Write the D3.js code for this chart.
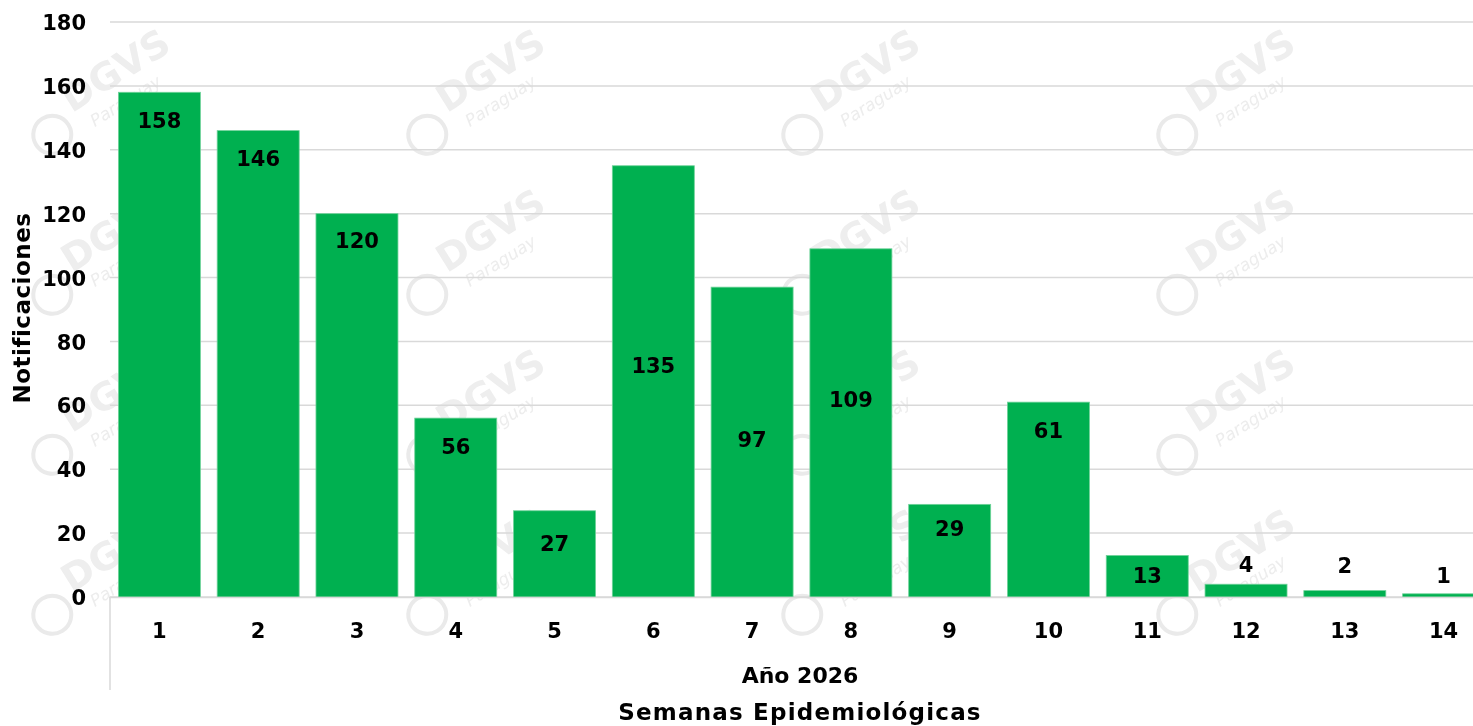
<!DOCTYPE html>
<html><head><meta charset="utf-8">
<script src="https://cdn.jsdelivr.net/npm/d3@7"></script>
<style>
html,body{margin:0;padding:0;background:#fff;}
svg text{font-family:"DejaVu Sans",sans-serif;font-weight:700;fill:#000;}
</style></head>
<body><svg id="c" width="1473" height="726"></svg>
<script>
const weeks = ["1","2","3","4","5","6","7","8","9","10","11","12","13","14"];
const notifications = [158,146,120,56,27,135,97,109,29,61,13,4,2,1];
// vertical position of each value label, in data units
const labelAnchors = [149.3,137.4,111.5,47,16.9,72.6,49.2,61.7,21.6,52,6.9,10.3,10,6.9];
const yTicks = [0,20,40,60,80,100,120,140,160,180];
const yTitle = "Notificaciones";
const xTitle1 = "Año 2026";
const xTitle2 = "Semanas Epidemiológicas";

const svg = d3.select("#c");
const W = 1473, H = 726;
const left = 110, y0 = 597, yTop = 22;

// watermark
const wm = svg.append("g").attr("opacity", 0.5);
const wmX = [40, 415, 790, 1165], wmY = [100, 260, 420, 580];
wmY.forEach(yy => wmX.forEach(xx => {
  const g = wm.append("g").attr("transform", `translate(${xx},${yy}) rotate(-32)`);
  g.append("circle").attr("cx", -8).attr("cy", 36).attr("r", 19).attr("fill", "none").attr("stroke", "#d4d4d4").attr("stroke-width", 4);
  g.append("text").attr("x", 20).attr("y", 28).style("font-size", "38px").style("fill", "#dcdcdc").text("DGVS");
  g.append("text").attr("x", 32).attr("y", 52).style("font-size", "17px").style("font-weight", 400).style("font-style", "italic").style("fill", "#dadada").text("Paraguay");
}));

const x = d3.scaleBand().domain(weeks).range([left, 1493]).paddingInner(0.17).paddingOuter(0.085);
const y = d3.scaleLinear().domain([0, 180]).range([y0, yTop]);

// gridlines
svg.append("g").selectAll("line").data(yTicks).join("line")
  .attr("x1", left).attr("x2", W).attr("y1", d => y(d)).attr("y2", d => y(d))
  .attr("stroke", "#d9d9d9").attr("stroke-width", 1.5);
// category axis left edge
svg.append("line").attr("x1", left).attr("x2", left).attr("y1", y0).attr("y2", 690)
  .attr("stroke", "#d9d9d9").attr("stroke-width", 1.5);

// y axis labels
const yAxis = d3.axisLeft(y).tickValues(yTicks).tickSize(0).tickPadding(0);
const gy = svg.append("g").attr("transform", "translate(86,0)").call(yAxis);
gy.select(".domain").remove();
gy.selectAll("text").style("font-size", "21px").attr("dy", "0.36em");

// bars
svg.append("g").selectAll("rect").data(notifications).join("rect")
  .attr("x", (d, i) => x(weeks[i])).attr("width", x.bandwidth())
  .attr("y", d => y(d)).attr("height", d => y(0) - y(d))
  .attr("fill", "#00b050").attr("stroke", "#6fd39a").attr("stroke-width", 0.8);

// value labels
svg.append("g").selectAll("text").data(notifications).join("text")
  .attr("x", (d, i) => x(weeks[i]) + x.bandwidth() / 2)
  .attr("y", (d, i) => y(labelAnchors[i]))
  .attr("text-anchor", "middle").attr("dy", "0.36em")
  .style("font-size", "21px").text(d => d);

// x axis labels
const xAxis = d3.axisBottom(x).tickSize(0).tickPadding(0);
const gx = svg.append("g").attr("transform", `translate(0,${y0})`).call(xAxis);
gx.select(".domain").attr("stroke", "#d9d9d9").attr("stroke-width", 1.5);
gx.selectAll("text").style("font-size", "21px").attr("y", 33).attr("dy", "0.36em");

// titles
svg.append("text").attr("transform", "translate(22,308) rotate(-90)").attr("text-anchor", "middle")
  .attr("dy", "0.36em").style("font-size", "23px").style("letter-spacing", "0.5px").text(yTitle);
svg.append("text").attr("x", 800).attr("y", 675).attr("text-anchor", "middle").attr("dy", "0.36em")
  .style("font-size", "22px").text(xTitle1);
svg.append("text").attr("x", 800).attr("y", 712).attr("text-anchor", "middle").attr("dy", "0.36em")
  .style("font-size", "23px").style("letter-spacing", "1.2px").text(xTitle2);
</script></body></html>
